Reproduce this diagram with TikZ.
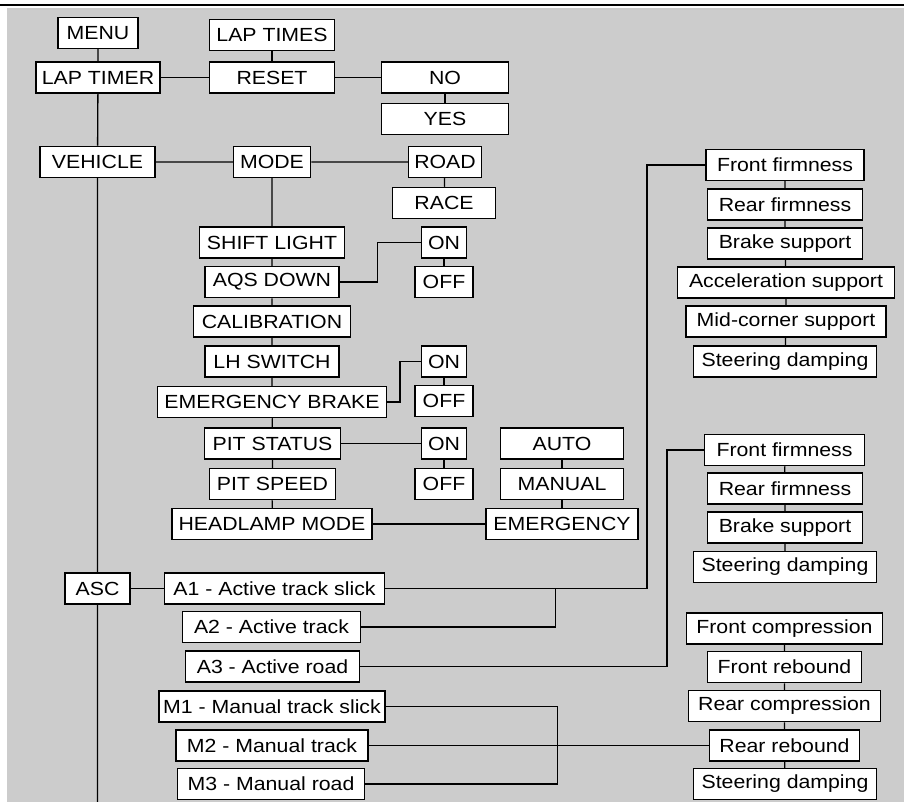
\documentclass[tikz,border=0pt]{standalone}
\usepackage{fontspec}
\setmainfont[FakeStretch=1.12]{Liberation Sans}
\begin{document}
\begin{tikzpicture}[x=1pt,y=-1pt,
  box/.style={draw,fill=white,line width=1.5pt,inner sep=0pt,minimum height=31pt,
    font=\fontsize{19}{21}\selectfont},
  wire/.style={line width=1.3pt}]
  \useasboundingbox (0,0) rectangle (904,802);
  \fill[black!20] (7,8) rectangle (904,802);
  \draw[line width=2pt] (0,5.3) -- (904,5.3);
  % left column
  \node[box,minimum width=80pt] (menu) at (98,33) {MENU};
  \node[box,minimum width=124pt] (laptimer) at (98,77.5) {LAP TIMER};
  \node[box,minimum width=115pt] (vehicle) at (97.5,162) {VEHICLE};
  \node[box,minimum width=65pt] (asc) at (97.5,588.5) {ASC};
  \coordinate (trunk) at (97.5,802);
  % lap timer
  \node[box,minimum width=125pt] (laptimes) at (272,35) {LAP TIMES};
  \node[box,minimum width=125pt] (reset) at (272,77.5) {RESET};
  \node[box,minimum width=127pt] (no) at (445,77.5) {NO};
  \node[box,minimum width=127pt] (yes) at (445,119) {YES};
  % vehicle
  \node[box,minimum width=77pt] (mode) at (272,162) {MODE};
  \node[box,minimum width=73pt] (road) at (445,162) {ROAD};
  \node[box,minimum width=103pt] (race) at (444,203) {RACE};
  \node[box,minimum width=145pt] (shift) at (272,242.5) {SHIFT LIGHT};
  \node[box,minimum width=134pt] (aqs) at (272,282) {AQS DOWN};
  \node[box,minimum width=157pt] (calib) at (272,321.5) {CALIBRATION};
  \node[box,minimum width=134pt] (lh) at (272,361.5) {LH SWITCH};
  \node[box,minimum width=229pt] (eb) at (272,402) {EMERGENCY BRAKE};
  \node[box,minimum width=136pt] (pitstatus) at (272.5,443.5) {PIT STATUS};
  \node[box,minimum width=126pt] (pitspeed) at (272.5,484) {PIT SPEED};
  \node[box,minimum width=200pt] (headlamp) at (272,524) {HEADLAMP MODE};
  \node[box,minimum width=45pt] (on1) at (444,242.5) {ON};
  \node[box,minimum width=58pt] (off1) at (444,282) {OFF};
  \node[box,minimum width=45pt] (on2) at (444,361.5) {ON};
  \node[box,minimum width=58pt] (off2) at (444,401) {OFF};
  \node[box,minimum width=45pt] (on3) at (444,443.5) {ON};
  \node[box,minimum width=58pt] (off3) at (444,484) {OFF};
  \node[box,minimum width=123pt] (auto) at (562,443.5) {AUTO};
  \node[box,minimum width=123pt] (manual) at (562,484) {MANUAL};
  \node[box,minimum width=152pt] (emergency) at (562,524) {EMERGENCY};
  % asc modes
  \node[box,minimum width=220pt] (a1) at (274.5,588.5) {A1 - Active track slick};
  \node[box,minimum width=178pt] (a2) at (271.5,627) {A2 - Active track};
  \node[box,minimum width=174pt] (a3) at (272.5,666.5) {A3 - Active road};
  \node[box,minimum width=226pt] (m1) at (272,706.5) {M1 - Manual track slick};
  \node[box,minimum width=192pt] (m2) at (272,745.5) {M2 - Manual track};
  \node[box,minimum width=187pt] (m3) at (271,784) {M3 - Manual road};
  % settings, active track
  \node[box,minimum width=158pt] (ff1) at (785,165) {Front firmness};
  \node[box,minimum width=155pt] (rf1) at (785,204.5) {Rear firmness};
  \node[box,minimum width=155pt] (bs1) at (785,243.5) {Brake support};
  \node[box,minimum width=217pt] (acc) at (786,282.5) {Acceleration support};
  \node[box,minimum width=200pt] (mid) at (786,321.5) {Mid-corner support};
  \node[box,minimum width=183pt] (sd1) at (785,361.5) {Steering damping};
  % settings, active road
  \node[box,minimum width=160pt] (ff2) at (784.5,450) {Front firmness};
  \node[box,minimum width=155pt] (rf2) at (785,488.5) {Rear firmness};
  \node[box,minimum width=155pt] (bs2) at (785,527.5) {Brake support};
  \node[box,minimum width=183pt] (sd2) at (785,567) {Steering damping};
  % settings, manual
  \node[box,minimum width=196pt] (fc) at (784.5,628.5) {Front compression};
  \node[box,minimum width=154pt] (fr) at (784.5,667) {Front rebound};
  \node[box,minimum width=192pt] (rc) at (784.5,706) {Rear compression};
  \node[box,minimum width=150pt] (rr) at (784.5,745.5) {Rear rebound};
  \node[box,minimum width=183pt] (sd3) at (785,784) {Steering damping};
  % bends
  \coordinate (k1) at (647,165);
  \coordinate (k2) at (555.5,588.5);
  \coordinate (k3) at (667,450);
  \coordinate (k4) at (557.5,745.5);
  \coordinate (k5) at (377.5,242.5);
  \coordinate (k6) at (400,361.5);
  % connectors
  \draw[wire] (menu) -- (laptimer) -- (vehicle) -- (asc) -- (trunk);
  \draw[wire] (laptimer) -- (reset) -- (no) -- (yes);
  \draw[wire] (laptimes) -- (reset);
  \draw[wire] (vehicle) -- (mode) -- (road) -- (race);
  \draw[wire] (mode) -- (shift) -- (aqs) -- (calib) -- (lh) -- (eb) -- (pitstatus)
    -- (pitspeed) -- (headlamp);
  \draw[wire] (on1) -- (off1);
  \draw[wire] (on2) -- (off2);
  \draw[wire] (on3) -- (off3);
  \draw[wire] (aqs) -| (k5) -- (on1);
  \draw[wire] (eb) -| (k6) -- (on2);
  \draw[wire] (pitstatus) -- (on3);
  \draw[wire] (auto) -- (manual) -- (emergency);
  \draw[wire] (headlamp) -- (emergency);
  \draw[wire] (asc) -- (a1);
  \draw[wire] (a1) -| (k1) -- (ff1);
  \draw[wire] (a2) -| (k2);
  \draw[wire] (a3) -| (k3) -- (ff2);
  \draw[wire] (m1) -| (k4) |- (m3);
  \draw[wire] (m2) -- (rr);
  \draw[wire] (ff1) -- (rf1) -- (bs1) -- (acc) -- (mid) -- (sd1);
  \draw[wire] (ff2) -- (rf2) -- (bs2) -- (sd2);
  \draw[wire] (fc) -- (fr) -- (rc) -- (rr) -- (sd3);
\end{tikzpicture}
\end{document}
